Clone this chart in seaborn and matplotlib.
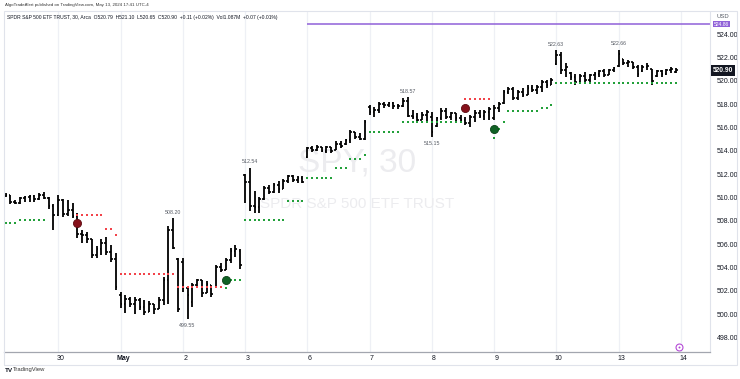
import matplotlib
matplotlib.use("Agg")
import matplotlib.pyplot as plt
import numpy as np
import pandas as pd
import seaborn as sns
from matplotlib.patches import Rectangle

#######################
# DATA (SPY 30 min bars)
#######################
opens = [
    # Apr 29
    510.15, 510.25, 509.65, 509.55, 509.95, 510.05, 510.15, 509.85, 510.25, 509.95, 509.25,
    # Apr 30
    508.5, 509.8, 508.6, 508.9, 508.4, 506.9, 506.8, 506.4, 505.1, 505.6, 506.1, 505.3, 504.75,
    # May 1
    501.6, 500.9, 501.3, 500.9, 501.2, 500.6, 500.2, 500.9, 500.4, 501.2, 502.9, 507.2, 504.7,
    # May 2
    504.5, 502.2, 501.0, 502.5, 502.9, 501.8, 502.5, 502.3, 504.0, 503.8, 504.6, 505.4, 505.4,
    # May 3
    511.9, 511.3, 509.3, 509.2, 509.9, 510.8, 510.5, 511.1, 510.7, 511.4, 511.8, 511.5, 511.7,
    # May 6
    513.5, 514.2, 514.05, 514.35, 514.0, 514.3, 514.1, 514.6, 514.55, 514.95, 515.6, 515.2, 515.0,
    # May 7
    517.75, 517.3, 517.5, 518.0, 517.9, 518.1, 517.8, 517.8, 518.3, 517.0, 516.9, 516.6, 517.1,
    # May 8
    516.9, 516.1, 516.8, 517.4, 516.9, 517.2, 516.8, 516.6, 516.4, 516.9, 517.2, 517.0, 517.3,
    # May 9
    516.8, 517.7, 518.1, 519.0, 519.3, 518.5, 519.0, 518.8, 519.4, 519.2, 519.5, 519.9, 519.6,
    # May 10
    521.4, 522.2, 520.9, 520.7, 520.3, 519.9, 520.4, 520.1, 520.5, 520.6, 520.8, 520.5, 520.9,
    # May 13
    521.3, 521.9, 521.5, 521.6, 521.2, 520.8, 521.2, 521.0, 520.4, 520.8, 520.6, 520.9, 520.79,
]
highs = [
    510.35, 510.25, 509.75, 510.05, 510.15, 510.25, 510.25, 510.35, 510.45, 510.05, 509.45,
    510.2, 509.9, 509.8, 509.5, 508.7, 507.2, 507.0, 506.4, 505.8, 506.4, 506.6, 505.9, 505.25,
    501.9, 501.6, 501.5, 501.5, 501.35, 501.2, 501.15, 500.9, 501.5, 503.2, 507.55, 508.2, 504.8,
    504.8, 502.2, 502.7, 503.05, 502.9, 502.8, 502.5, 504.2, 504.35, 504.8, 505.65, 505.9, 505.55,
    512.05, 512.54, 510.55, 510.0, 511.0, 511.1, 511.25, 511.4, 511.55, 511.95, 511.95, 511.85, 511.85,
    514.35, 514.4, 514.5, 514.35, 514.4, 514.35, 514.8, 514.85, 515.05, 515.8, 515.6, 515.5, 516.6,
    517.9, 517.75, 518.2, 518.2, 518.2, 518.2, 518.05, 518.5, 518.57, 517.5, 517.2, 517.35, 517.5,
    517.3, 516.9, 517.65, 517.65, 517.35, 517.25, 517.05, 516.9, 517.05, 517.5, 517.5, 517.5, 517.75,
    517.9, 518.2, 519.2, 519.5, 519.5, 519.2, 519.35, 519.6, 519.6, 519.6, 520.05, 520.05, 520.2,
    522.63, 522.5, 521.5, 520.75, 520.6, 520.6, 520.75, 520.6, 520.75, 520.9, 521.05, 521.05, 521.2,
    522.66, 521.9, 521.75, 521.6, 521.35, 521.35, 521.5, 521.05, 520.9, 520.9, 521.05, 521.2, 521.10,
]
lows = [
    510.05, 509.45, 509.45, 509.45, 509.65, 509.65, 509.65, 509.75, 509.85, 509.05, 507.2,
    508.4, 508.3, 508.4, 508.2, 506.5, 506.1, 506.1, 504.85, 504.85, 505.05, 505.05, 504.5, 502.1,
    500.5, 500.1, 500.6, 500.05, 500.35, 499.9, 500.2, 500.0, 500.4, 500.8, 500.9, 505.55, 500.2,
    501.9, 499.55, 500.65, 502.2, 501.5, 501.8, 501.5, 502.2, 503.6, 503.8, 504.35, 504.9, 503.9,
    509.5, 508.85, 508.7, 508.7, 509.8, 510.3, 510.4, 510.4, 510.7, 511.2, 511.35, 511.25, 511.2,
    513.35, 513.9, 514.0, 513.9, 513.8, 513.8, 514.05, 514.2, 514.5, 514.65, 515.05, 514.9, 514.9,
    517.05, 516.9, 517.2, 517.7, 517.75, 517.6, 517.55, 517.75, 516.9, 516.7, 516.35, 516.6, 516.5,
    515.15, 516.05, 516.65, 516.7, 516.65, 516.55, 516.5, 516.2, 516.05, 516.5, 516.8, 516.6, 516.6,
    516.6, 517.35, 518.05, 518.9, 518.35, 518.35, 518.6, 518.8, 519.05, 518.9, 519.05, 519.35, 519.6,
    521.35, 520.6, 520.35, 520.05, 519.6, 519.9, 519.9, 519.8, 520.05, 520.35, 520.35, 520.5, 520.75,
    521.2, 521.35, 521.2, 521.05, 520.35, 520.75, 520.9, 519.6, 520.35, 520.35, 520.5, 520.65, 520.65,
]
closes = [
    510.25, 509.65, 509.55, 509.95, 510.05, 510.15, 509.85, 510.25, 509.95, 509.25, 508.5,
    509.8, 508.6, 508.9, 508.4, 506.9, 506.8, 506.4, 505.1, 505.6, 506.1, 505.3, 504.75, 502.3,
    500.9, 501.3, 500.9, 501.2, 500.6, 500.2, 500.9, 500.4, 501.2, 502.9, 507.2, 505.7, 500.4,
    502.2, 501.6, 502.5, 502.9, 501.8, 502.6, 501.7, 504.0, 503.8, 504.6, 505.4, 505.6, 504.2,
    511.3, 509.3, 509.2, 509.9, 510.8, 510.5, 511.1, 510.7, 511.4, 511.8, 511.5, 511.7, 511.3,
    514.2, 514.05, 514.35, 514.0, 514.3, 513.95, 514.6, 514.4, 514.95, 515.6, 515.2, 515.0, 516.45,
    517.3, 517.5, 518.0, 517.9, 518.1, 517.8, 517.8, 518.3, 517.0, 516.9, 516.6, 517.1, 517.3,
    515.6, 516.8, 517.4, 516.9, 517.2, 516.8, 516.6, 516.4, 516.9, 517.2, 517.0, 517.3, 517.6,
    517.7, 518.0, 519.0, 519.3, 518.5, 519.0, 518.8, 519.4, 519.2, 519.5, 519.9, 519.6, 520.1,
    522.2, 520.9, 521.2, 520.3, 519.9, 520.4, 520.1, 520.5, 520.6, 520.8, 520.5, 520.9, 521.1,
    522.3, 521.5, 521.6, 521.2, 520.6, 521.2, 521.3, 520.0, 520.8, 520.6, 520.9, 521.0, 520.90,
]

# first bar of each session and its label
day_starts = [11, 24, 37, 50, 63, 76, 89, 102, 115, 128, 141]
day_labels = ['30', 'May', '2', '3', '6', '7', '8', '9', '10', '13', '14']

# stop levels: (first bar, last bar, price)
green_steps = [(0, 2, 507.8), (3, 8, 508.05), (46, 46, 502.2), (47, 49, 502.92),
               (50, 58, 508.06), (59, 62, 509.7), (63, 68, 511.7), (69, 71, 512.55),
               (72, 74, 513.3), (75, 75, 513.65), (76, 82, 515.6), (83, 95, 516.45),
               (102, 102, 515.1), (103, 103, 515.9), (104, 104, 516.5), (105, 111, 517.4),
               (112, 113, 517.7), (114, 114, 517.9), (115, 140, 519.8)]
red_steps = [(15, 20, 508.5), (21, 22, 507.27), (23, 23, 506.78), (24, 35, 503.4),
             (36, 45, 502.35), (96, 101, 518.45)]
sell_signals = [(15, 507.8), (96, 517.7)]
buy_signals = [(46, 502.92), (102, 515.9)]

# bars with a high / low price label
high_marks = [35, 51, 84, 115, 128]
low_marks = [38, 89]

alert_level = 524.86
alert_start = 63

title_line = "AlgoTradeAlert published on TradingView.com, May 13, 2024 17:41 UTC-4"
legend_line = ("SPDR S&P 500 ETF TRUST, 30, Arca  O520.79  H521.10  L520.65  C520.90  "
               "+0.11 (+0.02%)  Vol1.087M  +0.07 (+0.01%)")

#######################
# STYLE
#######################
sns.set_style("white")
plt.rcParams['font.family'] = ['Liberation Sans', 'DejaVu Sans']
green = '#22a03a'
red = '#f2434a'
txt = '#131722'
tick_len = 0.36   # open/close tick length, in bars

W, H = 740, 379
fig = plt.figure(figsize=(W / 100, H / 100), dpi=100)
ax = fig.add_axes([4 / W, 1 - 352 / H, 706 / W, 340 / H])

x_lo, x_hi = -0.33, 147.1
ax.set_xlim(x_lo, x_hi)
ax.set_ylim(496.75, 525.9)

# outer frame
fig.patches.append(Rectangle((4 / W, 1 - 365 / H), 733 / W, 354 / H, transform=fig.transFigure,
                             fill=False, ec='#e0e3eb', lw=0.8))

for s in day_starts:
    ax.axvline(s, color='#eef0f5', lw=0.9, zorder=0)

# watermark
ax.text(0.5, 0.557, "SPY, 30", transform=ax.transAxes, ha='center', va='center',
        fontsize=24, color='#ececef', zorder=0)
ax.text(0.5, 0.434, "SPDR S&P 500 ETF TRUST", transform=ax.transAxes, ha='center', va='center',
        fontsize=11, color='#ececef', zorder=0)

# OHLC bars
x = np.arange(len(opens))
ax.vlines(x, lows, highs, color='black', lw=1.3, zorder=3)
ax.hlines(opens, x - tick_len, x, color='black', lw=1.2, zorder=3)
ax.hlines(closes, x, x + tick_len, color='black', lw=1.2, zorder=3)

# stop dots
def expand(steps):
    rows = []
    for a, b, lvl in steps:
        for i in range(a, b + 1):
            rows.append({'bar': i, 'level': lvl})
    return pd.DataFrame(rows)

sns.scatterplot(data=expand(green_steps), x='bar', y='level', marker='s', s=2.4,
                color=green, linewidth=0, ax=ax, zorder=4)
sns.scatterplot(data=expand(red_steps), x='bar', y='level', marker='s', s=2.4,
                color=red, linewidth=0, ax=ax, zorder=4)

sell = pd.DataFrame(sell_signals, columns=['bar', 'level'])
buy = pd.DataFrame(buy_signals, columns=['bar', 'level'])
sns.scatterplot(data=sell, x='bar', y='level', s=34, color='#86101a', edgecolor='#5c0a10',
                linewidth=0.6, ax=ax, zorder=5)
sns.scatterplot(data=buy, x='bar', y='level', s=34, color='#0f6124', edgecolor='#0a4318',
                linewidth=0.6, ax=ax, zorder=5)

# high / low labels
for i in high_marks:
    ax.annotate(f"{highs[i]:.2f}", (i, highs[i]), xytext=(0, 2.6), textcoords='offset points',
                ha='center', va='bottom', fontsize=3.8, color='#555a63')
for i in low_marks:
    ax.annotate(f"{lows[i]:.2f}", (i, lows[i]), xytext=(0, -2.6), textcoords='offset points',
                ha='center', va='top', fontsize=3.8, color='#555a63')

# alert line
ax.hlines(alert_level, alert_start, x_hi, color='#9061d8', lw=1.1, zorder=2)
ax.annotate(f"{alert_level:.2f}", xy=(1, alert_level), xycoords=ax.get_yaxis_transform(),
            xytext=(3, 0), textcoords='offset points', ha='left', va='center', fontsize=3.6,
            color='white', annotation_clip=False,
            bbox=dict(boxstyle='square,pad=0.15', fc='#9061d8', ec='none'))

# last price
ax.annotate(f"{closes[-1]:.2f}", xy=(1, closes[-1]), xycoords=ax.get_yaxis_transform(),
            xytext=(2.2, 0), textcoords='offset points', ha='left', va='center', fontsize=4.8,
            color='white', fontweight='bold', annotation_clip=False,
            bbox=dict(boxstyle='square,pad=0.3', fc='#131722', ec='none'))

# event icon near the bottom
ax.plot([140.6], [0.015], transform=ax.get_xaxis_transform(), marker='o', markersize=5,
        mfc='white', mec='#b44ad6', mew=0.8, clip_on=False, zorder=6)
ax.plot([140.6], [0.015], transform=ax.get_xaxis_transform(), marker='o', markersize=1.4,
        mfc='#b44ad6', mec='none', clip_on=False, zorder=7)

# axes
ax.yaxis.tick_right()
yt = np.arange(498, 525, 2)
ax.set_yticks(yt)
ax.set_yticklabels([f"{v:.2f}" for v in yt])
ax.tick_params(axis='y', length=0, pad=5, labelsize=5, labelcolor=txt)
ax.set_xticks([s + 0.5 for s in day_starts])
ax.set_xticklabels(day_labels)
ax.tick_params(axis='x', length=0, pad=2.5, labelsize=5, labelcolor=txt)
for lab in ax.get_xticklabels():
    if lab.get_text() == 'May':
        lab.set_fontweight('bold')
ax.set_xlabel('')
ax.set_ylabel('')
for side in ['top', 'left']:
    ax.spines[side].set_visible(False)
ax.spines['bottom'].set_color('#a3a6af')
ax.spines['bottom'].set_linewidth(0.9)
ax.spines['right'].set_color('#e0e3eb')
ax.spines['right'].set_linewidth(0.8)

fig.text(5 / W, 1 - 5 / H, title_line, fontsize=3.2, color='#333', va='center')
fig.text(7 / W, 1 - 17 / H, legend_line, fontsize=3.6, color=txt, va='center')
fig.text(723 / W, 1 - 17 / H, 'USD', fontsize=4.2, color='#555a63', va='center', ha='center')
fig.text(5 / W, 1 - 370 / H, 'TV', fontsize=4.6, fontweight='bold', color=txt, va='center')
fig.text(13 / W, 1 - 370 / H, 'TradingView', fontsize=4.2, color='#333', va='center')

fig.savefig('out.png', dpi=100, facecolor='white')
